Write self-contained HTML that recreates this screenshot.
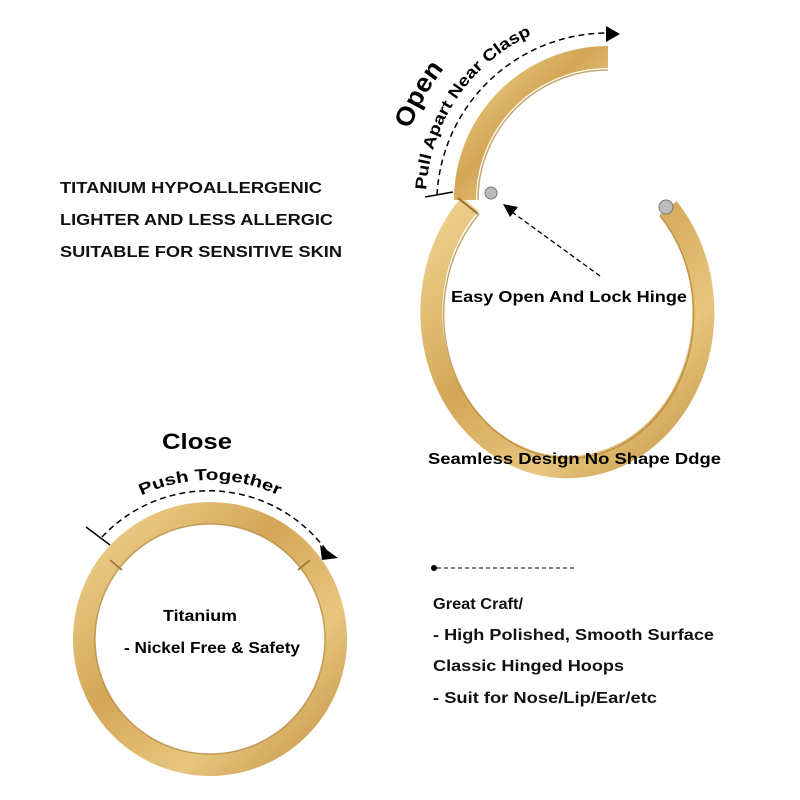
<!DOCTYPE html>
<html><head><meta charset="utf-8"><style>
body{margin:0;background:#fff;}
svg{display:block;font-family:"Liberation Sans",sans-serif;}
</style></head><body>
<svg width="800" height="800" viewBox="0 0 800 800" xmlns="http://www.w3.org/2000/svg">
<defs>
<linearGradient id="g1" x1="0" y1="0" x2="1" y2="1">
<stop offset="0" stop-color="#f0d592"/><stop offset="0.4" stop-color="#d4a656"/><stop offset="0.7" stop-color="#e8c67e"/><stop offset="1" stop-color="#c49345"/>
</linearGradient>
<path id="pOpen" d="M 398 200 A 210 210 0 0 1 608 -10"/>
<path id="pPull" d="M 426 200 A 182 182 0 0 1 608 18"/>
<path id="pPush" d="M 50 640 A 160 160 0 0 1 370 640"/>
</defs>

<g font-weight="bold" font-size="16" fill="#111" lengthAdjust="spacingAndGlyphs">
<text x="60" y="193" textLength="262" lengthAdjust="spacingAndGlyphs">TITANIUM HYPOALLERGENIC</text>
<text x="60" y="225" textLength="273" lengthAdjust="spacingAndGlyphs">LIGHTER AND LESS ALLERGIC</text>
<text x="60" y="257" textLength="282" lengthAdjust="spacingAndGlyphs">SUITABLE FOR SENSITIVE SKIN</text>
</g>

<!-- big ring lower part -->
<path d="M 470 204 A 136 155 0 1 0 668 208" fill="none" stroke="url(#g1)" stroke-width="22"/>
<path d="M 479 214 A 125 144 0 1 0 660 216" fill="none" stroke="#b08035" stroke-width="1.5" opacity="0.7"/>
<circle cx="666" cy="207" r="7" fill="#bbb" stroke="#777"/>
<!-- open piece -->
<path d="M 465 200 A 143 143 0 0 1 608 57" fill="none" stroke="url(#g1)" stroke-width="22"/>
<path d="M 478 200 A 130 130 0 0 1 608 70" fill="none" stroke="#b08035" stroke-width="1.5" opacity="0.7"/>
<circle cx="491" cy="193" r="6" fill="#bbb" stroke="#777"/>
<line x1="458" y1="198" x2="478" y2="214" stroke="#9a7235" stroke-width="2"/>

<!-- dashed open arc -->
<line x1="425" y1="197" x2="453" y2="192" stroke="#000" stroke-width="1.5"/>
<path d="M 437 195 A 171 171 0 0 1 605 33" fill="none" stroke="#000" stroke-width="1.5" stroke-dasharray="6,4"/>
<path d="M 606 26 L 620 34 L 606 42 z" fill="#000"/>
<text font-size="26" font-weight="bold"><textPath href="#pOpen" startOffset="72" textLength="70" lengthAdjust="spacingAndGlyphs">Open</textPath></text>
<text font-size="16" font-weight="bold"><textPath href="#pPull" startOffset="10" textLength="197" lengthAdjust="spacingAndGlyphs">Pull Apart Near Clasp</textPath></text>

<!-- hinge arrow -->
<line x1="600" y1="276" x2="512" y2="212" stroke="#000" stroke-width="1.3" stroke-dasharray="5,3"/>
<path d="M 503 204 L 518 207 L 510 217 z" fill="#000"/>
<text x="451" y="302" font-size="16" font-weight="bold" textLength="236" lengthAdjust="spacingAndGlyphs">Easy Open And Lock Hinge</text>
<text x="428" y="464" font-size="16" font-weight="bold" textLength="293" lengthAdjust="spacingAndGlyphs">Seamless Design  No Shape Ddge</text>

<!-- small ring -->
<circle cx="210" cy="639" r="126" fill="none" stroke="url(#g1)" stroke-width="22"/>
<circle cx="210" cy="639" r="115" fill="none" stroke="#b08035" stroke-width="1.5" opacity="0.7"/>
<line x1="110" y1="560" x2="122" y2="570" stroke="#9a7235" stroke-width="1.5"/>
<line x1="310" y1="560" x2="298" y2="570" stroke="#9a7235" stroke-width="1.5"/>
<text x="162" y="449" font-size="22" font-weight="bold" textLength="70" lengthAdjust="spacingAndGlyphs">Close</text>
<text font-size="16" font-weight="bold"><textPath href="#pPush" startOffset="50%" text-anchor="middle" textLength="142" lengthAdjust="spacingAndGlyphs">Push Together</textPath></text>
<line x1="86" y1="527" x2="110" y2="545" stroke="#000" stroke-width="1.5"/>
<path d="M 102 537 A 146 146 0 0 1 326 550" fill="none" stroke="#000" stroke-width="1.5" stroke-dasharray="6,4"/>
<path d="M 320 545 L 338 558 L 322 560 z" fill="#000"/>
<text x="163" y="621" font-size="16" font-weight="bold" textLength="74" lengthAdjust="spacingAndGlyphs">Titanium</text>
<text x="124" y="653" font-size="16" font-weight="bold" textLength="176" lengthAdjust="spacingAndGlyphs">- Nickel Free &amp; Safety</text>

<!-- right text -->
<circle cx="434" cy="568" r="3" fill="#000"/>
<line x1="437" y1="568" x2="577" y2="568" stroke="#000" stroke-width="1" stroke-dasharray="4,3"/>
<g font-size="16" font-weight="bold" fill="#111">
<text x="433" y="609" textLength="90" lengthAdjust="spacingAndGlyphs">Great Craft/</text>
<text x="433" y="640" textLength="281" lengthAdjust="spacingAndGlyphs">- High Polished, Smooth Surface</text>
<text x="433" y="671" textLength="191" lengthAdjust="spacingAndGlyphs">Classic Hinged Hoops</text>
<text x="433" y="703" textLength="224" lengthAdjust="spacingAndGlyphs">- Suit for Nose/Lip/Ear/etc</text>
</g>
</svg>
</body></html>
